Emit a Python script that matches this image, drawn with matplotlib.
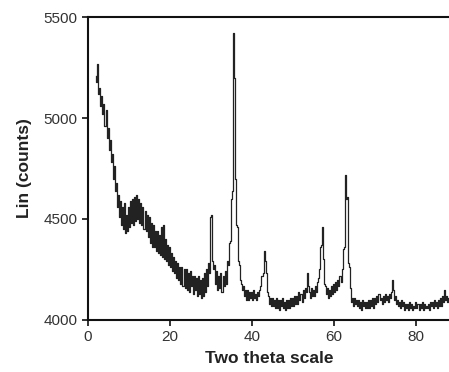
import numpy as np
import matplotlib
matplotlib.use("Agg")
import matplotlib.pyplot as plt

plt.rcParams["font.family"] = ["Liberation Sans", "DejaVu Sans"]

theta_start = 2.0
theta_step = 0.25
intensity = [
    5210, 5180, 5270, 5120,
    5150, 5060, 5110, 5020,
    5070, 4960, 5040, 4900,
    4950, 4840, 4890, 4780,
    4820, 4700, 4760, 4640,
    4680, 4560, 4620, 4510,
    4590, 4470, 4560, 4450,
    4580, 4430, 4520, 4440,
    4560, 4460, 4590, 4480,
    4600, 4470, 4610, 4490,
    4620, 4500, 4600, 4480,
    4580, 4470, 4560, 4450,
    4540, 4440, 4520, 4410,
    4510, 4380, 4480, 4360,
    4470, 4360, 4440, 4340,
    4440, 4330, 4420, 4320,
    4460, 4310, 4470, 4300,
    4400, 4290, 4370, 4270,
    4360, 4260, 4330, 4240,
    4310, 4230, 4290, 4210,
    4280, 4200, 4260, 4180,
    4260, 4170, 4250, 4160,
    4250, 4150, 4230, 4140,
    4240, 4170, 4220, 4130,
    4220, 4150, 4210, 4120,
    4220, 4130, 4200, 4110,
    4210, 4120, 4230, 4140,
    4250, 4170, 4280, 4230,
    4510, 4520, 4290, 4250,
    4270, 4180, 4240, 4150,
    4220, 4160, 4230, 4140,
    4220, 4170, 4240, 4180,
    4290, 4270, 4380, 4390,
    4600, 4640, 5420, 5200,
    4700, 4470, 4460, 4290,
    4270, 4200, 4180, 4150,
    4170, 4120, 4150, 4100,
    4150, 4100, 4140, 4110,
    4140, 4100, 4150, 4110,
    4130, 4100, 4140, 4120,
    4150, 4170, 4220, 4230,
    4340, 4290, 4230, 4140,
    4120, 4080, 4110, 4070,
    4110, 4070, 4100, 4060,
    4110, 4060, 4100, 4050,
    4100, 4070, 4110, 4060,
    4090, 4050, 4100, 4060,
    4100, 4060, 4110, 4070,
    4110, 4070, 4120, 4080,
    4120, 4080, 4140, 4100,
    4130, 4090, 4150, 4110,
    4160, 4140, 4230, 4170,
    4140, 4110, 4160, 4120,
    4150, 4120, 4170, 4140,
    4190, 4210, 4250, 4360,
    4370, 4460, 4300, 4180,
    4170, 4130, 4160, 4110,
    4150, 4120, 4170, 4130,
    4180, 4140, 4190, 4150,
    4200, 4170, 4220, 4190,
    4250, 4350, 4360, 4720,
    4600, 4610, 4280, 4260,
    4160, 4090, 4110, 4070,
    4110, 4080, 4100, 4070,
    4100, 4060, 4090, 4050,
    4100, 4070, 4090, 4060,
    4090, 4060, 4100, 4060,
    4100, 4070, 4110, 4060,
    4110, 4080, 4120, 4090,
    4130, 4100, 4110, 4080,
    4120, 4090, 4130, 4100,
    4120, 4090, 4130, 4110,
    4140, 4200, 4150, 4100,
    4120, 4080, 4100, 4070,
    4090, 4060, 4100, 4070,
    4090, 4050, 4080, 4060,
    4080, 4050, 4090, 4060,
    4080, 4050, 4070, 4060,
    4090, 4060, 4080, 4050,
    4080, 4060, 4090, 4050,
    4080, 4060, 4070, 4060,
    4080, 4050, 4090, 4070,
    4090, 4060, 4100, 4070,
    4090, 4060, 4100, 4070,
    4110, 4070, 4120, 4090,
    4150, 4100, 4120, 4090,
    4110,
]
x_ticks = [0, 20, 40, 60, 80]
y_ticks = [4000, 4500, 5000, 5500]

theta = theta_start + theta_step * np.arange(len(intensity))

fig = plt.figure(figsize=(4.49, 3.72), dpi=100)
ax = fig.add_axes([0.195, 0.140, 0.81, 0.814])
ax.plot(theta, intensity, color="#222222", lw=0.9, drawstyle="steps-mid")
ax.set_xlim(0, 88.6)
ax.set_ylim(4000, 5500)
ax.set_xticks(x_ticks)
ax.set_yticks(y_ticks)
for s in ["left", "top", "bottom"]:
    ax.spines[s].set_linewidth(1.5)
    ax.spines[s].set_color("#111111")
ax.spines["right"].set_visible(False)
ax.tick_params(direction="out", length=4, width=1.2, labelsize=11, colors="#111111", labelcolor="#333333")
ax.set_xlabel("Two theta scale", fontsize=12.5, fontweight="bold", color="#222222", labelpad=5)
ax.set_ylabel("Lin (counts)", fontsize=12.5, fontweight="bold", color="#222222", labelpad=8)
fig.savefig("out.png", dpi=100)
